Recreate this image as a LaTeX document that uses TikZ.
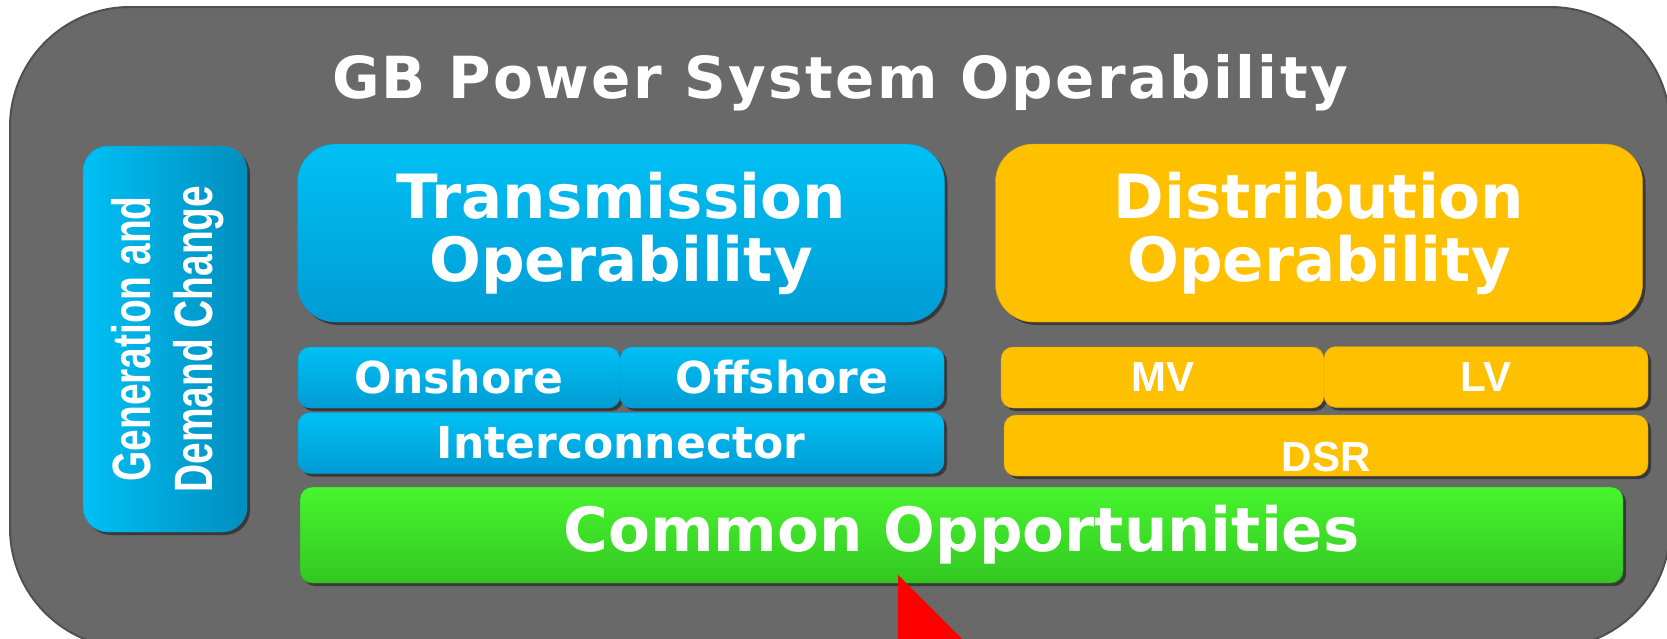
\documentclass[tikz,border=0pt]{standalone}
\usepackage{fontspec}
\setmainfont{DejaVu Sans}
\newfontfamily\arialfont{Liberation Sans}
\newfontfamily\narrowfont{Liberation Sans}[FakeStretch=0.72]
\usetikzlibrary{positioning,shadows}

\definecolor{framegray}{HTML}{696969}
\definecolor{frameedge}{HTML}{505050}
\definecolor{cyantop}{HTML}{00C0F5}
\definecolor{cyanbot}{HTML}{009CD4}
\definecolor{cyandark}{HTML}{008EBE}
\definecolor{amber}{HTML}{FFC000}
\definecolor{ambedge}{HTML}{E0A800}
\definecolor{greentop}{HTML}{47F52D}
\definecolor{greenbot}{HTML}{33C722}
\definecolor{greenedge}{HTML}{2AA01C}

\begin{document}
\begin{tikzpicture}[x=1pt,y=-1pt,
    boxshadow/.style={drop shadow={shadow xshift=3pt,shadow yshift=-3pt,opacity=.45,fill=black}},
    bluebox/.style={rectangle,boxshadow,top color=cyantop,bottom color=cyanbot,draw=cyanbot,
      text=white,font=\bfseries,align=center,inner sep=0pt},
    ambbox/.style={rectangle,boxshadow,fill=amber,draw=ambedge,
      text=white,font=\bfseries,align=center,inner sep=0pt},
    bigbox/.style={minimum width=647pt,minimum height=178pt,rounded corners=38pt,
      font=\fontsize{61}{63}\bfseries},
    smallbox/.style={minimum height=61pt,rounded corners=12pt},
    bluesmall/.style={bluebox,smallbox,font=\fontsize{44}{46}\bfseries},
    ambsmall/.style={ambbox,smallbox,font=\arialfont\fontsize{42}{44}\bfseries}]
  \useasboundingbox (0,0) rectangle (1667,638);
  % outer frame
  \draw[fill=framegray,draw=frameedge,line width=2pt,rounded corners=120pt] (10,7) rectangle (1670,648);
  \node[text=white,font=\fontsize{58}{60}\bfseries\addfontfeature{LetterSpace=4}] (title) at (840,83) {GB Power System Operability};

  % left column
  \node[rectangle,boxshadow,left color=cyantop,right color=cyandark,draw=cyanbot,
    minimum width=164pt,minimum height=386pt,rounded corners=25pt] (change) at (165,339) {};
  \node[rotate=90,text=white,align=center,font=\narrowfont\fontsize{54}{62}\bfseries] (changetxt) at ([xshift=3pt]change.center) {Generation and\\Demand Change};

  % transmission side
  \node[bluebox,bigbox] (trans) at (621,233) {Transmission\\Operability};
  \node[bluesmall,minimum width=322pt] (onshore) at (459,377.5) {Onshore};
  \node[bluesmall,minimum width=324pt] (offshore) at (782,377.5) {Offshore};
  \node[bluesmall,minimum width=646pt] (inter) at (621,443) {Interconnector};

  % distribution side
  \node[ambbox,bigbox] (dist) at (1319,233) {Distribution\\Operability};
  \node[ambsmall,minimum width=323pt] (mv) at (1162.5,377.5) {MV};
  \node[ambsmall,minimum width=324pt] (lv) at (1486,377) {LV};
  \node[ambsmall,minimum width=644pt] (dsr) at (1326,445.5) {\raisebox{-26pt}[0pt][0pt]{DSR}};

  % common bar
  \node[rectangle,boxshadow,top color=greentop,bottom color=greenbot,draw=greenedge,
    minimum width=1323pt,minimum height=96pt,rounded corners=12pt,
    text=white,font=\fontsize{61}{63}\bfseries] (common) at (961.5,535) {Common Opportunities};

  % red pointer
  \fill[red] (898,575) -- (898,660) -- (983,660) -- cycle;
\end{tikzpicture}
\end{document}
